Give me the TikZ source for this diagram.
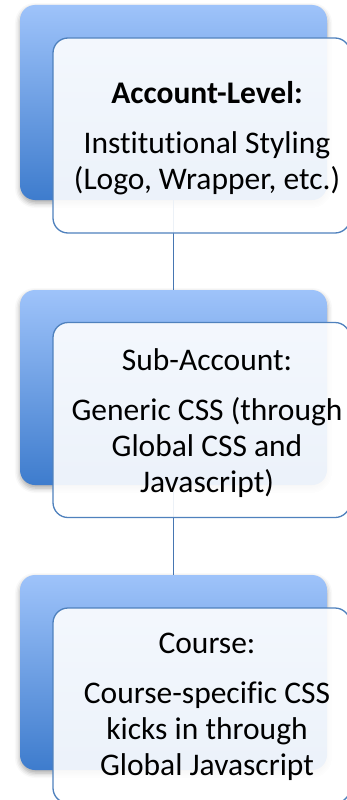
\documentclass[tikz,border=0pt]{standalone}
\usepackage{fontspec}
\setmainfont[Ligatures=NoCommon, RawFeature={-liga;-clig;-calt}]{Carlito}
\usetikzlibrary{shadows.blur}

\definecolor{edgeblue}{RGB}{79,129,189}
\definecolor{linkblue}{RGB}{70,118,178}
\definecolor{cardtop}{RGB}{158,195,250}
\definecolor{cardmid}{RGB}{125,168,234}
\definecolor{cardbottom}{RGB}{62,124,205}

\tikzset{
  backcard/.style={rectangle, rounded corners=15pt, draw=none,
    minimum width=307pt, minimum height=195pt, inner sep=0pt,
    top color=cardtop, middle color=cardmid, bottom color=cardbottom,
    blur shadow={shadow xshift=0pt, shadow yshift=-3pt,
                 shadow blur radius=5pt, shadow opacity=35}},
  frontcard/.style={rectangle, rounded corners=15pt, draw=edgeblue,
    line width=1.3pt, fill=white, fill opacity=0.9,
    minimum width=297pt, minimum height=195pt, inner sep=0pt},
  cardtext/.style={align=center, inner sep=0pt, anchor=north,
    font=\fontsize{31.5}{36}\selectfont, text=black},
  connector/.style={draw=linkblue, line width=1.5pt}
}

\begin{document}
\begin{tikzpicture}[x=1pt, y=-1pt]
\useasboundingbox (0,0) rectangle (347,800);

% back cards with gradient fill
\node[backcard] (b1) at (173.5,102.5) {};
\node[backcard] (b2) at (173.5,387.5) {};
\node[backcard] (b3) at (173.5,672.5) {};

% vertical links between the levels
\draw[connector] (b1.south) -- (b2.north);
\draw[connector] (b2.south) -- (b3.north);

% front cards
\node[frontcard] (w1) at (201.5,135.5) {};
\node[frontcard] (w2) at (201.5,420) {};
\node[frontcard] (w3) at (201.5,705.5) {};

% card texts
\node[cardtext] (t1) at (207,81) {\textbf{Account-Level:}\\[14pt]
  Institutional Styling\\(Logo, Wrapper, etc.)};
\node[cardtext] (t2) at (207,348) {Sub-Account:\\[14pt]
  Generic CSS (through\\Global CSS and\\Javascript)};
\node[cardtext] (t3) at (207,633) {Course:\\[14pt]
  Course-specific CSS\\kicks in through\\Global Javascript};
\end{tikzpicture}
\end{document}
